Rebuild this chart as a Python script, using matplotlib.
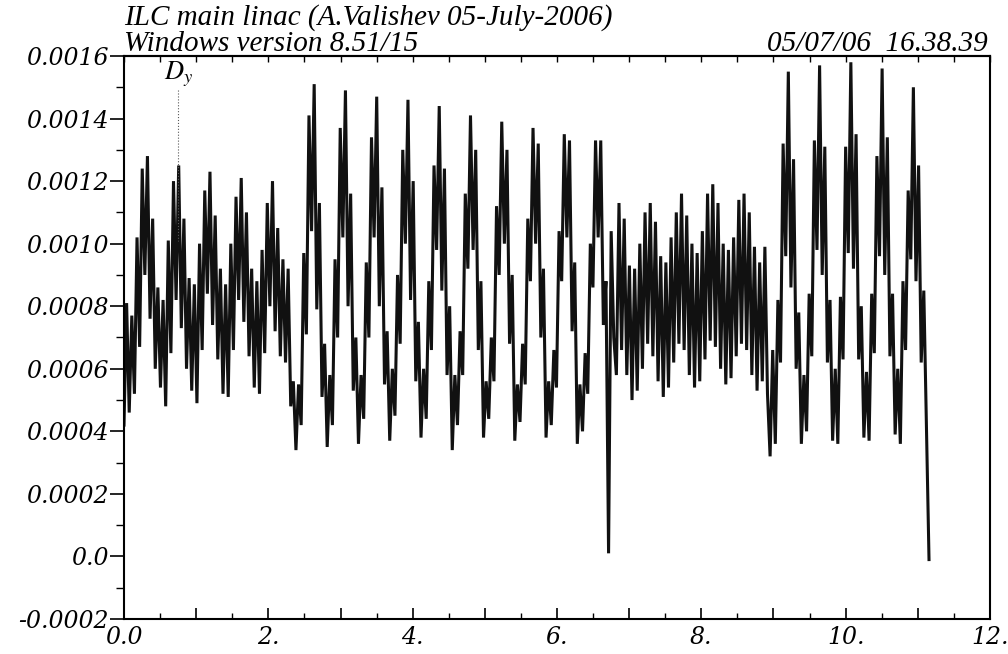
import numpy as np
import matplotlib
matplotlib.use('Agg')
import matplotlib.pyplot as plt
from matplotlib.ticker import MultipleLocator, FuncFormatter

plt.rcParams['font.family'] = 'DejaVu Serif'
plt.rcParams['font.style'] = 'italic'
plt.rcParams['mathtext.fontset'] = 'stix'

# vertical dispersion along the linac, one value per half FODO cell [m]
half_cell_km = 0.0361

# s = 0 .. 2.45 km
dy_part1 = [
    0.00042, 0.00081, 0.00046, 0.00077, 0.00052, 0.00102, 0.00067, 0.00124, 0.00090,
    0.00128, 0.00076, 0.00108, 0.00060, 0.00086, 0.00054, 0.00082, 0.00048,
    0.00101, 0.00065, 0.00120, 0.00082, 0.00125, 0.00073, 0.00108, 0.00060, 0.00089, 0.00053, 0.00087, 0.00049,
    0.00100, 0.00066, 0.00117, 0.00084, 0.00123, 0.00074, 0.00109, 0.00063, 0.00092, 0.00052, 0.00087, 0.00051,
    0.00100, 0.00066, 0.00115, 0.00082, 0.00121, 0.00075, 0.00110, 0.00064, 0.00092, 0.00054, 0.00088, 0.00052,
    0.00098, 0.00065, 0.00113, 0.00080, 0.00120, 0.00072, 0.00105, 0.00064, 0.00095, 0.00062, 0.00092, 0.00048,
    0.00056, 0.00034, 0.00055, 0.00042,
]

# s = 2.5 .. 6.7 km
dy_part2 = [
    0.00097, 0.00071, 0.00141, 0.00104, 0.00151, 0.00079, 0.00113, 0.00051, 0.00068, 0.00035, 0.00058, 0.00042,
    0.00095, 0.00070, 0.00137, 0.00102, 0.00149, 0.00080, 0.00116, 0.00053, 0.00070, 0.00036, 0.00058, 0.00044,
    0.00094, 0.00070, 0.00134, 0.00102, 0.00147, 0.00080, 0.00118, 0.00055, 0.00072, 0.00037, 0.00060, 0.00045,
    0.00090, 0.00068, 0.00130, 0.00100, 0.00146, 0.00082, 0.00120, 0.00056, 0.00075, 0.00038, 0.00060, 0.00044,
    0.00088, 0.00066, 0.00125, 0.00098, 0.00144, 0.00085, 0.00124, 0.00058, 0.00080, 0.00034, 0.00058, 0.00042,
    0.00072, 0.00058, 0.00116, 0.00092, 0.00141, 0.00098, 0.00130, 0.00066, 0.00088, 0.00038, 0.00056, 0.00044,
    0.00070, 0.00056, 0.00112, 0.00090, 0.00139, 0.00100, 0.00130, 0.00068, 0.00090, 0.00037, 0.00055, 0.00043,
    0.00068, 0.00055, 0.00108, 0.00088, 0.00137, 0.00100, 0.00132, 0.00070, 0.00092, 0.00038, 0.00056, 0.00042,
    0.00066, 0.00054, 0.00104, 0.00088, 0.00135, 0.00102, 0.00133, 0.00072, 0.00094, 0.00036, 0.00055, 0.00040,
    0.00065, 0.00052, 0.00100, 0.00086, 0.00133, 0.00102, 0.00133, 0.00074, 0.00088,
]

# dispersion-free point near s = 6.7 km
dy_dip = [0.00001]

# s = 6.75 .. 9.0 km
dy_part3 = [
    0.00104, 0.00070, 0.00058,
    0.00113, 0.00066, 0.00108, 0.00058, 0.00093, 0.00050, 0.00092, 0.00053, 0.00100, 0.00060, 0.00110, 0.00068,
    0.00113, 0.00064, 0.00107, 0.00056, 0.00096, 0.00051, 0.00094, 0.00054, 0.00102, 0.00062, 0.00110, 0.00068,
    0.00116, 0.00066, 0.00109, 0.00058, 0.00100, 0.00054, 0.00097, 0.00056, 0.00104, 0.00063, 0.00116, 0.00069,
    0.00119, 0.00067, 0.00113, 0.00060, 0.00100, 0.00055, 0.00098, 0.00057, 0.00102, 0.00064, 0.00114, 0.00068,
    0.00116, 0.00066, 0.00110, 0.00058, 0.00099, 0.00053, 0.00094,
    0.00056, 0.00099, 0.00052, 0.00032, 0.00066, 0.00036,
]

# s = 9.05 km .. end of linac
dy_part4 = [
    0.00082, 0.00062, 0.00132, 0.00096, 0.00155, 0.00086, 0.00127, 0.00060, 0.00078, 0.00036, 0.00058, 0.00040,
    0.00084, 0.00064, 0.00133, 0.00098, 0.00157, 0.00090, 0.00131, 0.00062, 0.00082, 0.00037, 0.00060, 0.00036,
    0.00083, 0.00063, 0.00131, 0.00097, 0.00158, 0.00092, 0.00135, 0.00063, 0.00080, 0.00038, 0.00059, 0.00037,
    0.00084, 0.00065, 0.00128, 0.00096, 0.00156, 0.00090, 0.00134, 0.00064, 0.00084, 0.00039, 0.00060, 0.00036,
    0.00088, 0.00066, 0.00117, 0.00095, 0.00150, 0.00088, 0.00125, 0.00062, 0.00085, 0.00042, -0.00001,
]

dy = np.array(dy_part1 + dy_part2 + dy_dip + dy_part3 + dy_part4)
s = np.arange(len(dy)) * half_cell_km

# curve label marker
label_s = 0.752
label_top, label_bottom = 0.00149, 0.00101

fig = plt.figure(figsize=(10.08, 6.54), dpi=100)
ax = fig.add_axes([124 / 1008, 1 - 619 / 654, 866 / 1008, 563 / 654])

ax.plot(s, dy, color='#111111', lw=2.2, solid_joinstyle='miter')
ax.plot([label_s, label_s], [label_top, label_bottom], ls=':', color='0.35', lw=0.8)
ax.text(label_s, 0.00154, r'$D_y$', ha='center', va='center', fontsize=19)

ax.set_xlim(0, 12)
ax.set_ylim(-0.0002, 0.0016)

# x axis: long ticks every km, labels on even km
ax.xaxis.set_major_locator(MultipleLocator(1))
ax.xaxis.set_minor_locator(MultipleLocator(0.5))
ax.xaxis.set_major_formatter(FuncFormatter(
    lambda v, p: '0.0' if abs(v) < 1e-9 else (f'{int(round(v))}.' if int(round(v)) % 2 == 0 else '')))
ax.tick_params(axis='x', which='major', direction='in', length=8, width=1.2, pad=5,
               labelsize=17, top=False)
ax.tick_params(axis='x', which='minor', direction='in', length=4, width=1.0, top=False)

top = ax.secondary_xaxis('top')
top.xaxis.set_major_locator(MultipleLocator(0.5))
top.tick_params(direction='in', length=4, width=1.0, labeltop=False)

ax.yaxis.set_major_locator(MultipleLocator(0.0002))
ax.yaxis.set_minor_locator(MultipleLocator(0.0001))
ax.yaxis.set_major_formatter(FuncFormatter(lambda v, p: '0.0' if abs(v) < 1e-12 else f'{v:.4f}'))
ax.tick_params(axis='y', which='major', direction='out', length=10, width=1.2, pad=1,
               labelsize=17, right=False)
ax.tick_params(axis='y', which='minor', direction='out', length=6, width=1.0, right=False)

for sp in ax.spines.values():
    sp.set_linewidth(1.5)
top.spines['top'].set_linewidth(1.5)

head = dict(family='Liberation Serif', style='italic', fontsize=21)
fig.text(124 / 1008, 1 - 25 / 654, 'ILC main linac (A.Valishev 05-July-2006)', ha='left', va='baseline', **head)
fig.text(124 / 1008, 1 - 51 / 654, 'Windows version 8.51/15', ha='left', va='baseline', **head)
fig.text(988 / 1008, 1 - 51 / 654, '05/07/06  16.38.39', ha='right', va='baseline', **head)

fig.savefig('out.png', dpi=100)
